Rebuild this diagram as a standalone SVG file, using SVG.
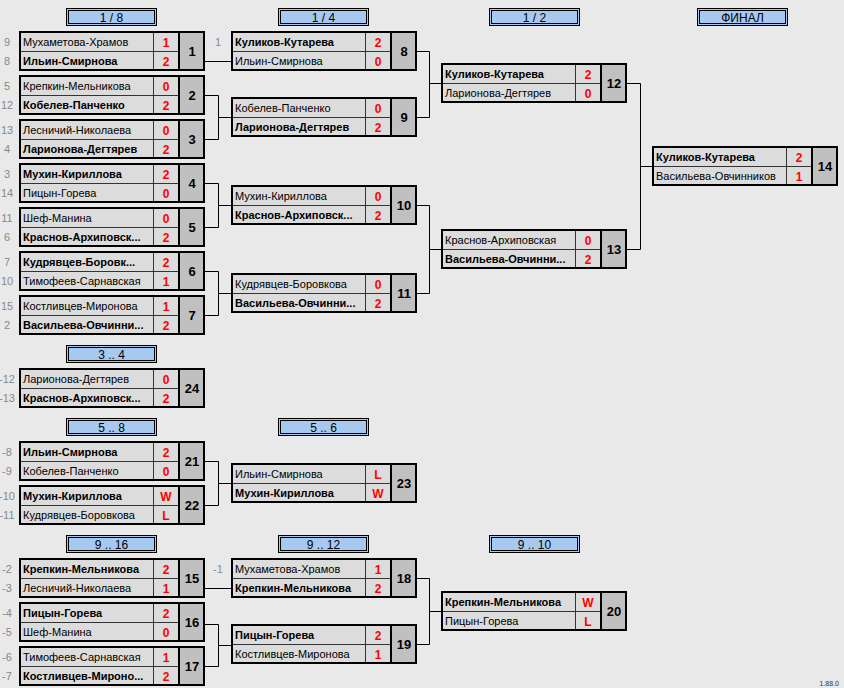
<svg xmlns="http://www.w3.org/2000/svg" xmlns:xlink="http://www.w3.org/1999/xlink" width="844" height="688" viewBox="0 0 844 688">
<style>
text{font-family:"Liberation Sans",Arial,sans-serif;}
.n{font-size:11px;fill:#000;}
.b{font-size:11px;fill:#000;font-weight:bold;}
.s{font-size:12px;fill:#f00;font-weight:bold;text-anchor:middle;}
.num{font-size:13px;fill:#000;font-weight:bold;text-anchor:middle;}
.seed{font-size:11px;fill:#888;text-anchor:middle;}
.h{font-size:12px;fill:#000;text-anchor:middle;}
.conn{fill:none;stroke:#000;stroke-width:1;}
</style>
<defs>
<g id="box">
<rect x="1" y="1" width="159" height="38" fill="#dcdcdc"/>
<rect x="160" y="1" width="25" height="38" fill="#c0c0c0"/>
<line x1="1" y1="20.5" x2="160" y2="20.5" stroke="#333" stroke-width="1"/>
<line x1="134.5" y1="1" x2="134.5" y2="39" stroke="#333" stroke-width="1"/>
<line x1="160" y1="1" x2="160" y2="39" stroke="#000" stroke-width="2"/>
<rect x="1" y="1" width="184" height="38" fill="none" stroke="#000" stroke-width="2"/>
</g>
<g id="hdr">
<rect x="0.5" y="0.5" width="90" height="17" fill="#a8c9ef" stroke="#000"/>
<rect x="2.5" y="2.5" width="86" height="13" fill="none" stroke="#000"/>
</g>
</defs>
<rect width="844" height="688" fill="#e9e9e9"/>

<g id="connectors" class="conn">
<path d="M205,61.5H231"/>
<path d="M205,95.5H218.5V139.5H205M218.5,117.5H231"/>
<path d="M205,183.5H218.5V227.5H205M218.5,205.5H231"/>
<path d="M205,271.5H218.5V315.5H205M218.5,293.5H231"/>
<path d="M417,51.5H429.5V117.5H417M429.5,83.5H441"/>
<path d="M417,205.5H429.5V293.5H417M429.5,249.5H441"/>
<path d="M627,83.5H640.5V249.5H627M640.5,166.5H652"/>
<path d="M205,461.5H218.5V505.5H205M218.5,483.5H231"/>
<path d="M205,588.5H231"/>
<path d="M205,624.5H218.5V666.5H205M218.5,645.5H231"/>
<path d="M417,578.5H429.5V644.5H417M429.5,611.5H441"/>
</g>

<g id="headers">
<g transform="translate(66,8)"><use xlink:href="#hdr"/><text class="h" x="45.5" y="13.5">1 / 8</text></g>
<g transform="translate(278,8)"><use xlink:href="#hdr"/><text class="h" x="45.5" y="13.5">1 / 4</text></g>
<g transform="translate(489,8)"><use xlink:href="#hdr"/><text class="h" x="45.5" y="13.5">1 / 2</text></g>
<g transform="translate(697,8)"><use xlink:href="#hdr"/><text class="h" x="45.5" y="13.5">ФИНАЛ</text></g>
<g transform="translate(66,345)"><use xlink:href="#hdr"/><text class="h" x="45.5" y="13.5">3 .. 4</text></g>
<g transform="translate(66,418)"><use xlink:href="#hdr"/><text class="h" x="45.5" y="13.5">5 .. 8</text></g>
<g transform="translate(278,418)"><use xlink:href="#hdr"/><text class="h" x="45.5" y="13.5">5 .. 6</text></g>
<g transform="translate(66,535)"><use xlink:href="#hdr"/><text class="h" x="45.5" y="13.5">9 .. 16</text></g>
<g transform="translate(278,535)"><use xlink:href="#hdr"/><text class="h" x="45.5" y="13.5">9 .. 12</text></g>
<g transform="translate(489,535)"><use xlink:href="#hdr"/><text class="h" x="45.5" y="13.5">9 .. 10</text></g>
</g>

<g id="m1" transform="translate(19,31)"><use xlink:href="#box"/>
<text class="seed" x="-12" y="15">9</text><text class="seed" x="-12" y="34">8</text>
<text class="n" x="4" y="15">Мухаметова-Храмов</text><text class="s" x="147" y="15.5">1</text>
<text class="b" x="4" y="34">Ильин-Смирнова</text><text class="s" x="147" y="34.5">2</text>
<text class="num" x="173" y="25">1</text></g>

<g id="m2" transform="translate(19,75)"><use xlink:href="#box"/>
<text class="seed" x="-12" y="15">5</text><text class="seed" x="-12" y="34">12</text>
<text class="n" x="4" y="15">Крепкин-Мельникова</text><text class="s" x="147" y="15.5">0</text>
<text class="b" x="4" y="34">Кобелев-Панченко</text><text class="s" x="147" y="34.5">2</text>
<text class="num" x="173" y="25">2</text></g>

<g id="m3" transform="translate(19,119)"><use xlink:href="#box"/>
<text class="seed" x="-12" y="15">13</text><text class="seed" x="-12" y="34">4</text>
<text class="n" x="4" y="15">Лесничий-Николаева</text><text class="s" x="147" y="15.5">0</text>
<text class="b" x="4" y="34">Ларионова-Дегтярев</text><text class="s" x="147" y="34.5">2</text>
<text class="num" x="173" y="25">3</text></g>

<g id="m4" transform="translate(19,163)"><use xlink:href="#box"/>
<text class="seed" x="-12" y="15">3</text><text class="seed" x="-12" y="34">14</text>
<text class="b" x="4" y="15">Мухин-Кириллова</text><text class="s" x="147" y="15.5">2</text>
<text class="n" x="4" y="34">Пицын-Горева</text><text class="s" x="147" y="34.5">0</text>
<text class="num" x="173" y="25">4</text></g>

<g id="m5" transform="translate(19,207)"><use xlink:href="#box"/>
<text class="seed" x="-12" y="15">11</text><text class="seed" x="-12" y="34">6</text>
<text class="n" x="4" y="15">Шеф-Манина</text><text class="s" x="147" y="15.5">0</text>
<text class="b" x="4" y="34">Краснов-Архиповск...</text><text class="s" x="147" y="34.5">2</text>
<text class="num" x="173" y="25">5</text></g>

<g id="m6" transform="translate(19,251)"><use xlink:href="#box"/>
<text class="seed" x="-12" y="15">7</text><text class="seed" x="-12" y="34">10</text>
<text class="b" x="4" y="15">Кудрявцев-Боровк...</text><text class="s" x="147" y="15.5">2</text>
<text class="n" x="4" y="34">Тимофеев-Сарнавская</text><text class="s" x="147" y="34.5">1</text>
<text class="num" x="173" y="25">6</text></g>

<g id="m7" transform="translate(19,295)"><use xlink:href="#box"/>
<text class="seed" x="-12" y="15">15</text><text class="seed" x="-12" y="34">2</text>
<text class="n" x="4" y="15">Костливцев-Миронова</text><text class="s" x="147" y="15.5">1</text>
<text class="b" x="4" y="34">Васильева-Овчинни...</text><text class="s" x="147" y="34.5">2</text>
<text class="num" x="173" y="25">7</text></g>

<g id="m8" transform="translate(231,31)"><use xlink:href="#box"/>
<text class="seed" x="-13" y="15">1</text>
<text class="b" x="4" y="15">Куликов-Кутарева</text><text class="s" x="147" y="15.5">2</text>
<text class="n" x="4" y="34">Ильин-Смирнова</text><text class="s" x="147" y="34.5">0</text>
<text class="num" x="173" y="25">8</text></g>

<g id="m9" transform="translate(231,97)"><use xlink:href="#box"/>
<text class="n" x="4" y="15">Кобелев-Панченко</text><text class="s" x="147" y="15.5">0</text>
<text class="b" x="4" y="34">Ларионова-Дегтярев</text><text class="s" x="147" y="34.5">2</text>
<text class="num" x="173" y="25">9</text></g>

<g id="m10" transform="translate(231,185)"><use xlink:href="#box"/>
<text class="n" x="4" y="15">Мухин-Кириллова</text><text class="s" x="147" y="15.5">0</text>
<text class="b" x="4" y="34">Краснов-Архиповск...</text><text class="s" x="147" y="34.5">2</text>
<text class="num" x="173" y="25">10</text></g>

<g id="m11" transform="translate(231,273)"><use xlink:href="#box"/>
<text class="n" x="4" y="15">Кудрявцев-Боровкова</text><text class="s" x="147" y="15.5">0</text>
<text class="b" x="4" y="34">Васильева-Овчинни...</text><text class="s" x="147" y="34.5">2</text>
<text class="num" x="173" y="25">11</text></g>

<g id="m12" transform="translate(441,63)"><use xlink:href="#box"/>
<text class="b" x="4" y="15">Куликов-Кутарева</text><text class="s" x="147" y="15.5">2</text>
<text class="n" x="4" y="34">Ларионова-Дегтярев</text><text class="s" x="147" y="34.5">0</text>
<text class="num" x="173" y="25">12</text></g>

<g id="m13" transform="translate(441,229)"><use xlink:href="#box"/>
<text class="n" x="4" y="15">Краснов-Архиповская</text><text class="s" x="147" y="15.5">0</text>
<text class="b" x="4" y="34">Васильева-Овчинни...</text><text class="s" x="147" y="34.5">2</text>
<text class="num" x="173" y="25">13</text></g>

<g id="m14" transform="translate(652,146)"><use xlink:href="#box"/>
<text class="b" x="4" y="15">Куликов-Кутарева</text><text class="s" x="147" y="15.5">2</text>
<text class="n" x="4" y="34">Васильева-Овчинников</text><text class="s" x="147" y="34.5">1</text>
<text class="num" x="173" y="25">14</text></g>

<g id="m24" transform="translate(19,368)"><use xlink:href="#box"/>
<text class="seed" x="-12" y="15">-12</text><text class="seed" x="-12" y="34">-13</text>
<text class="n" x="4" y="15">Ларионова-Дегтярев</text><text class="s" x="147" y="15.5">0</text>
<text class="b" x="4" y="34">Краснов-Архиповск...</text><text class="s" x="147" y="34.5">2</text>
<text class="num" x="173" y="25">24</text></g>

<g id="m21" transform="translate(19,441)"><use xlink:href="#box"/>
<text class="seed" x="-12" y="15">-8</text><text class="seed" x="-12" y="34">-9</text>
<text class="b" x="4" y="15">Ильин-Смирнова</text><text class="s" x="147" y="15.5">2</text>
<text class="n" x="4" y="34">Кобелев-Панченко</text><text class="s" x="147" y="34.5">0</text>
<text class="num" x="173" y="25">21</text></g>

<g id="m22" transform="translate(19,485)"><use xlink:href="#box"/>
<text class="seed" x="-12" y="15">-10</text><text class="seed" x="-12" y="34">-11</text>
<text class="b" x="4" y="15">Мухин-Кириллова</text><text class="s" x="147" y="15.5">W</text>
<text class="n" x="4" y="34">Кудрявцев-Боровкова</text><text class="s" x="147" y="34.5">L</text>
<text class="num" x="173" y="25">22</text></g>

<g id="m23" transform="translate(231,463)"><use xlink:href="#box"/>
<text class="n" x="4" y="15">Ильин-Смирнова</text><text class="s" x="147" y="15.5">L</text>
<text class="b" x="4" y="34">Мухин-Кириллова</text><text class="s" x="147" y="34.5">W</text>
<text class="num" x="173" y="25">23</text></g>

<g id="m15" transform="translate(19,558)"><use xlink:href="#box"/>
<text class="seed" x="-12" y="15">-2</text><text class="seed" x="-12" y="34">-3</text>
<text class="b" x="4" y="15">Крепкин-Мельникова</text><text class="s" x="147" y="15.5">2</text>
<text class="n" x="4" y="34">Лесничий-Николаева</text><text class="s" x="147" y="34.5">1</text>
<text class="num" x="173" y="25">15</text></g>

<g id="m16" transform="translate(19,602)"><use xlink:href="#box"/>
<text class="seed" x="-12" y="15">-4</text><text class="seed" x="-12" y="34">-5</text>
<text class="b" x="4" y="15">Пицын-Горева</text><text class="s" x="147" y="15.5">2</text>
<text class="n" x="4" y="34">Шеф-Манина</text><text class="s" x="147" y="34.5">0</text>
<text class="num" x="173" y="25">16</text></g>

<g id="m17" transform="translate(19,646)"><use xlink:href="#box"/>
<text class="seed" x="-12" y="15">-6</text><text class="seed" x="-12" y="34">-7</text>
<text class="n" x="4" y="15">Тимофеев-Сарнавская</text><text class="s" x="147" y="15.5">1</text>
<text class="b" x="4" y="34">Костливцев-Мироно...</text><text class="s" x="147" y="34.5">2</text>
<text class="num" x="173" y="25">17</text></g>

<g id="m18" transform="translate(231,558)"><use xlink:href="#box"/>
<text class="seed" x="-13" y="15">-1</text>
<text class="n" x="4" y="15">Мухаметова-Храмов</text><text class="s" x="147" y="15.5">1</text>
<text class="b" x="4" y="34">Крепкин-Мельникова</text><text class="s" x="147" y="34.5">2</text>
<text class="num" x="173" y="25">18</text></g>

<g id="m19" transform="translate(231,624)"><use xlink:href="#box"/>
<text class="b" x="4" y="15">Пицын-Горева</text><text class="s" x="147" y="15.5">2</text>
<text class="n" x="4" y="34">Костливцев-Миронова</text><text class="s" x="147" y="34.5">1</text>
<text class="num" x="173" y="25">19</text></g>

<g id="m20" transform="translate(441,591)"><use xlink:href="#box"/>
<text class="b" x="4" y="15">Крепкин-Мельникова</text><text class="s" x="147" y="15.5">W</text>
<text class="n" x="4" y="34">Пицын-Горева</text><text class="s" x="147" y="34.5">L</text>
<text class="num" x="173" y="25">20</text></g>

<text x="839" y="686" font-size="7" fill="#333" text-anchor="end">1.88.0</text>
</svg>
